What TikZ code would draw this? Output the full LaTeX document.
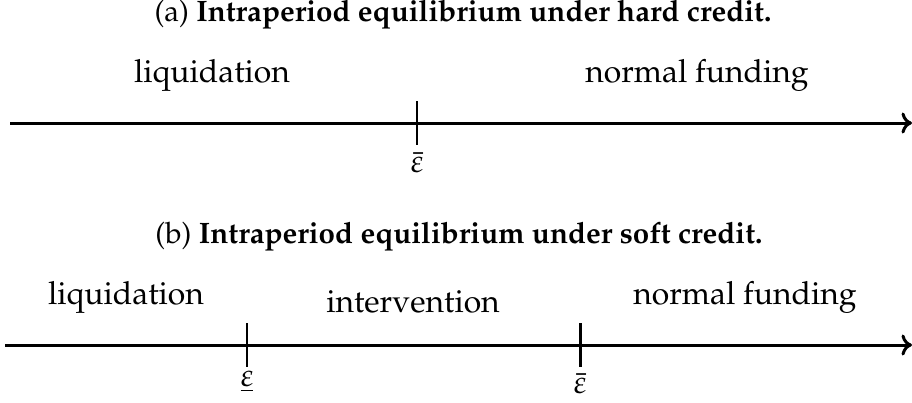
\documentclass[tikz,border=0pt]{standalone}
\usepackage[T1]{fontenc}
\usepackage{mathpazo}
\usepackage{tikz}
\usetikzlibrary{arrows.meta,positioning}

\begin{document}
\begin{tikzpicture}[x=0.01cm,y=-0.01cm,font=\fontsize{9.06}{11}\selectfont,
  axe/.style={-{To[length=3pt,width=6pt]},line width=0.85pt},
  marque/.style={line width=0.85pt},
  zone/.style={inner sep=0pt,anchor=base},
  titre/.style={inner sep=0pt,anchor=base,font=\fontsize{8.4}{10}\selectfont},
  borne/.style={inner sep=0pt,anchor=base}]
  \useasboundingbox (0,0) rectangle (912,402);

  % (a) hard credit
  \node[titre] (Ta) at (463,21) {(a) \textbf{Intraperiod equilibrium under hard credit.}};
  \node[zone] (La) at (212,82) {liquidation};
  \node[zone] (Na) at (697,82) {normal funding};
  \coordinate (Ga) at (10,123);
  \coordinate (Da) at (912,123);
  \coordinate (Ma) at (417,123);
  \draw[axe] (Ga) -- (Da);
  \draw[marque] (Ma) ++(0,-22) -- ++(0,44);
  \node[borne] (Ea) at (417,172) {$\bar\varepsilon$};

  % (b) soft credit
  \node[titre] (Tb) at (459,243) {(b) \textbf{Intraperiod equilibrium under soft credit.}};
  \node[zone] (Lb) at (126,304) {liquidation};
  \node[zone] (Ib) at (413,312) {intervention};
  \node[zone] (Nb) at (745,304) {normal funding};
  \coordinate (Gb) at (5,345);
  \coordinate (Db) at (912,345);
  \coordinate (M1b) at (247,345);
  \coordinate (M2b) at (580,345);
  \draw[axe] (Gb) -- (Db);
  \draw[marque] (M1b) ++(0,-22) -- ++(0,44);
  \draw[marque] (M2b) ++(0,-22) -- ++(0,44);
  \node[borne] (E1b) at (247,386) {$\underline{\varepsilon}$};
  \node[borne] (E2b) at (580,393) {$\bar\varepsilon$};
\end{tikzpicture}
\end{document}
